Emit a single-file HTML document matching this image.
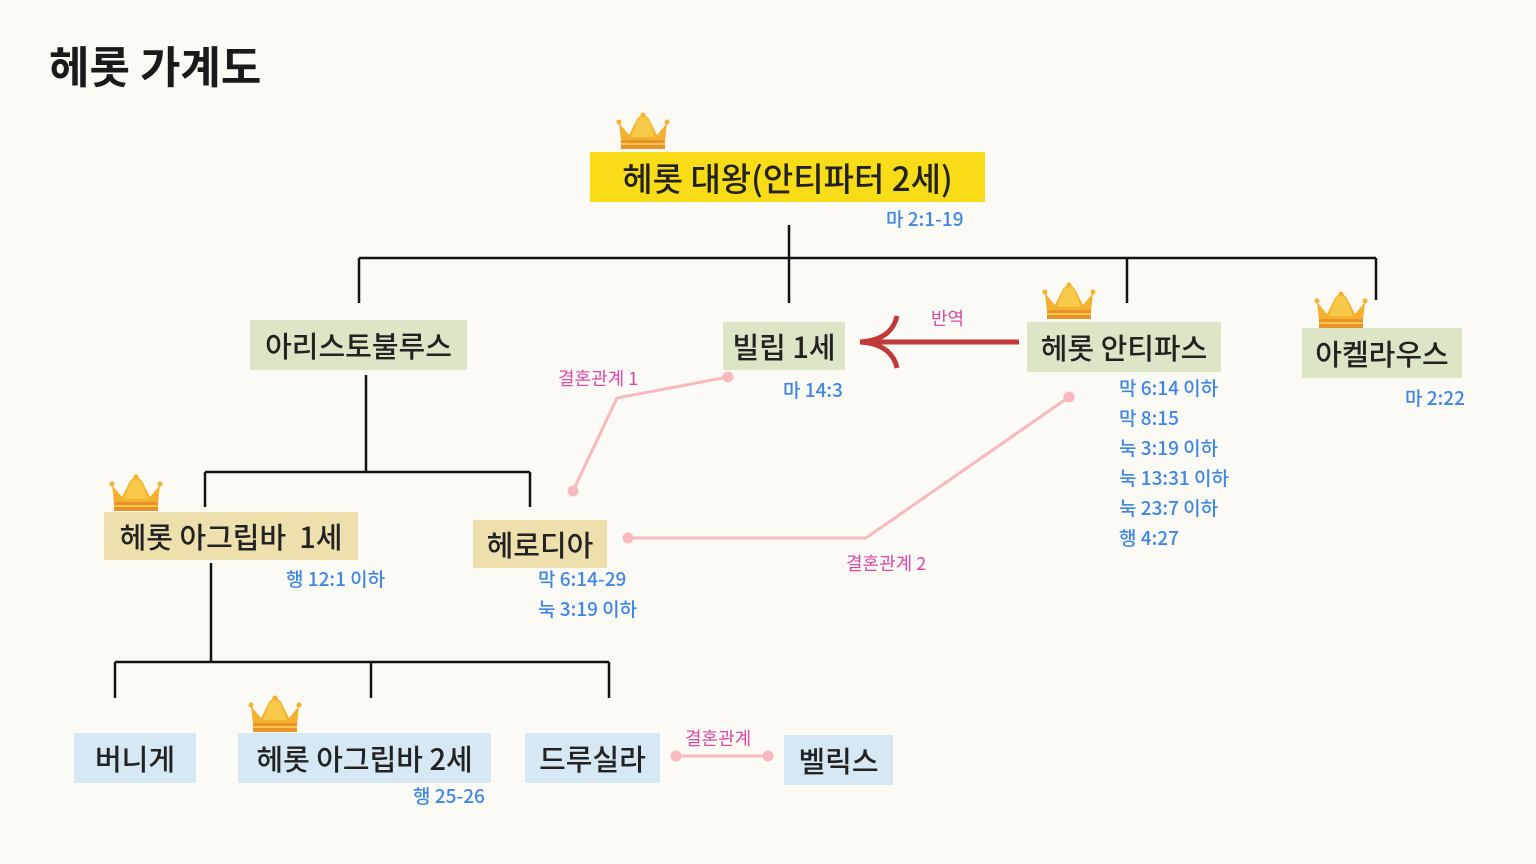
<!DOCTYPE html>
<html><head><meta charset="utf-8">
<style>
html,body{margin:0;padding:0}
body{width:1536px;height:864px;background:#fcfaf5;position:relative;overflow:hidden;font-family:"Noto Sans CJK KR","Liberation Sans",sans-serif}
.t{position:absolute;white-space:nowrap}
.box{position:absolute;display:flex;align-items:center;justify-content:center;color:#222;font-weight:500;white-space:nowrap;line-height:1}
.y{background:#f8dc17}.g{background:#dde5c7}.tan{background:#ede0ad}.b{background:#d5e8f4}
.ref{position:absolute;color:#3f86e4;font-size:19px;font-weight:500;white-space:nowrap;line-height:30px}
.pk{position:absolute;color:#d94aa6;font-size:18px;white-space:nowrap;line-height:1.2}
</style></head><body>
<svg width="1536" height="864" style="position:absolute;left:0;top:0">
<defs>
<g id="crown">
<path d="M2 10 L12 22 L20 6 L26 0 L32 6 L40 22 L50 10 L48 28 L4 28 Z" fill="#f4b02f"/>
<path d="M26 2 L20 8 L14 24 L38 24 L32 8 Z" fill="#f8c849"/>
<circle cx="26" cy="2" r="2.5" fill="#f4b02f"/><circle cx="2" cy="9" r="2.5" fill="#f4b02f"/><circle cx="50" cy="9" r="2.5" fill="#f4b02f"/>
<rect x="4" y="27" width="44" height="9" fill="#e8922a"/>
<rect x="4" y="30" width="44" height="2" fill="#f8c849"/>
</g>
</defs>
<g stroke="#111" stroke-width="2.5" fill="none">
<path d="M789 225V303M359 258H1376M359 258V303M1127 258V303M1376 258V300"/>
<path d="M366 375V472M205 472H530M205 472V507M530 472V507"/>
<path d="M211 563V662M115 662H609M115 662V698M371 662V698M609 662V698"/>
</g>
<g stroke="#f7b8be" stroke-width="3" fill="none">
<path d="M573 491L617 398L728 377"/>
<path d="M628 538H866L1069 397"/>
<path d="M676 756H768"/>
</g>
<g fill="#f7b8be">
<circle cx="573" cy="491" r="5.5"/><circle cx="728" cy="377" r="5.5"/>
<circle cx="628" cy="538" r="5.5"/><circle cx="1069" cy="397" r="5.5"/>
<circle cx="676" cy="756" r="5.5"/><circle cx="768" cy="756" r="5.5"/>
</g>
<g stroke="#c0393b" stroke-width="5" fill="none">
<path d="M1019 342H860"/>
<path d="M897 316C893 334 878 341 860 342C878 343 893 350 897 368"/>
</g>
<use href="#crown" x="617" y="113"/>
<use href="#crown" x="1043" y="283"/>
<use href="#crown" x="1315" y="292"/>
<use href="#crown" x="110" y="475"/>
<use href="#crown" x="249" y="696"/>
</svg>

<div class="t" style="left:49px;top:38px;font-size:44px;font-weight:bold;color:#1a1a1a;line-height:1.2">헤롯 가계도</div>

<div class="box y" style="left:590px;top:152px;width:395px;height:50px;font-size:33px">헤롯 대왕(안티파터 2세)</div>
<div class="ref" style="left:886px;top:204px">마 2:1-19</div>

<div class="box g" style="left:250px;top:320px;width:217px;height:50px;font-size:29px">아리스토불루스</div>
<div class="box g" style="left:723px;top:322px;width:122px;height:48px;font-size:29px">빌립 1세</div>
<div class="ref" style="left:783px;top:375px">마 14:3</div>
<div class="box g" style="left:1027px;top:322px;width:194px;height:50px;font-size:29px">헤롯 안티파스</div>
<div class="ref" style="left:1119px;top:373px">막 6:14 이하<br>막 8:15<br>눅 3:19 이하<br>눅 13:31 이하<br>눅 23:7 이하<br>행 4:27</div>
<div class="box g" style="left:1302px;top:328px;width:160px;height:50px;font-size:29px">아켈라우스</div>
<div class="ref" style="left:1405px;top:383px">마 2:22</div>

<div class="pk" style="left:931px;top:308px">반역</div>
<div class="pk" style="left:558px;top:368px">결혼관계 1</div>
<div class="pk" style="left:846px;top:553px">결혼관계 2</div>
<div class="pk" style="left:685px;top:728px">결혼관계</div>

<div class="box tan" style="left:104px;top:512px;width:254px;height:48px;font-size:29px">헤롯 아그립바&nbsp; 1세</div>
<div class="ref" style="left:286px;top:564px">행 12:1 이하</div>
<div class="box tan" style="left:473px;top:520px;width:134px;height:48px;font-size:29px">헤로디아</div>
<div class="ref" style="left:538px;top:564px">막 6:14-29<br>눅 3:19 이하</div>

<div class="box b" style="left:74px;top:733px;width:122px;height:50px;font-size:29px">버니게</div>
<div class="box b" style="left:238px;top:733px;width:253px;height:50px;font-size:29px">헤롯 아그립바 2세</div>
<div class="ref" style="left:413px;top:781px">행 25-26</div>
<div class="box b" style="left:525px;top:733px;width:135px;height:50px;font-size:29px">드루실라</div>
<div class="box b" style="left:784px;top:735px;width:109px;height:50px;font-size:29px">벨릭스</div>
</body></html>
